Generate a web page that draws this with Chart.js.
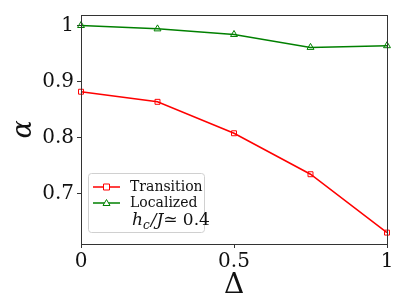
<!DOCTYPE html>
<html>
<head>
<meta charset="utf-8">
<script src="https://cdn.jsdelivr.net/npm/chart.js@4/dist/chart.umd.min.js"></script>
<style>
  html, body { margin: 0; padding: 0; background: #fff; }
  #wrap { width: 407px; height: 305px; }
</style>
</head>
<body>
<div id="wrap"><canvas id="c" width="407" height="305"></canvas></div>
<script>
// ── Data ───────────────────────────────────────────────
const deltaVals   = [0, 0.25, 0.5, 0.75, 1];
const transition  = [0.882, 0.864, 0.808, 0.735, 0.631];
const localized   = [1.000, 0.994, 0.984, 0.961, 0.964];
const xTicks      = [0, 0.5, 1];
const yTicks      = [0.7, 0.8, 0.9, 1];
const seriesNames = ['Transition', 'Localized'];

const RED   = '#ff0000';
const GREEN = '#008000';
const SERIF = '"DejaVu Serif", serif';

const _pts = ys => deltaVals.map((x, i) => ({ x, y: ys[i] }));

// ── Plugins ────────────────────────────────────────────
const _framePlugin = {
  id: 'frame',
  afterDraw(chart) {
    const { ctx, chartArea: a } = chart;
    ctx.save();
    ctx.strokeStyle = '#333';
    ctx.lineWidth = 1;
    ctx.strokeRect(a.left + 0.5, a.top + 0.5, a.right - a.left, a.bottom - a.top);
    ctx.restore();
  },
};

const _legendPlugin = {
  id: 'innerLegend',
  afterDraw(chart) {
    const { ctx } = chart;
    const bx = 88, by = 173, bw = 116, bh = 59;
    ctx.save();
    ctx.fillStyle = 'rgba(255,255,255,0.85)';
    ctx.strokeStyle = '#d0d0d0';
    ctx.lineWidth = 1;
    ctx.beginPath();
    ctx.roundRect(bx + 0.5, by + 0.5, bw, bh, 3);
    ctx.fill();
    ctx.stroke();

    const rows = [
      { label: seriesNames[0], color: RED,   y: 187, marker: 'rect' },
      { label: seriesNames[1], color: GREEN, y: 203, marker: 'tri' },
    ];
    ctx.font = `14px ${SERIF}`;
    ctx.textBaseline = 'middle';
    for (const r of rows) {
      ctx.strokeStyle = r.color;
      ctx.lineWidth = 1.5;
      ctx.beginPath();
      ctx.moveTo(93, r.y);
      ctx.lineTo(120, r.y);
      ctx.stroke();
      ctx.lineWidth = 1;
      ctx.fillStyle = '#fff';
      ctx.beginPath();
      if (r.marker === 'rect') {
        ctx.rect(103.5, r.y - 3, 6, 6);
      } else {
        ctx.moveTo(106.5, r.y - 3.5);
        ctx.lineTo(110, r.y + 2.5);
        ctx.lineTo(103, r.y + 2.5);
        ctx.closePath();
      }
      ctx.fill();
      ctx.stroke();
      ctx.fillStyle = '#111';
      ctx.fillText(r.label, 130, r.y);
    }

    // h_c/J ≃ 0.4
    ctx.textBaseline = 'alphabetic';
    let x = 132;
    const base = 225;
    ctx.font = `italic 17px ${SERIF}`;
    ctx.fillText('h', x, base); x += ctx.measureText('h').width;
    ctx.font = `italic 12px ${SERIF}`;
    ctx.fillText('c', x, base + 4); x += ctx.measureText('c').width + 1;
    ctx.font = `italic 17px ${SERIF}`;
    ctx.fillText('/J', x, base); x += ctx.measureText('/J').width;
    ctx.font = `17px ${SERIF}`;
    ctx.fillText('\u2243 0.4', x, base);
    ctx.restore();
  },
};

// ── Chart ──────────────────────────────────────────────
const _TICK = { color: '#111', font: { family: SERIF, size: 20 } };

new Chart(document.getElementById('c'), {
  type: 'line',
  data: {
    datasets: [
      {
        label: seriesNames[0],
        data: _pts(transition),
        borderColor: RED,
        borderWidth: 1.5,
        pointStyle: 'rect',
        pointRadius: 3.5,
        pointBorderWidth: 1,
        pointBackgroundColor: 'rgba(255,255,255,0)',
        pointBorderColor: RED,
      },
      {
        label: seriesNames[1],
        data: _pts(localized),
        borderColor: GREEN,
        borderWidth: 1.5,
        pointStyle: 'triangle',
        pointRadius: 4,
        pointBorderWidth: 1,
        pointBackgroundColor: 'rgba(255,255,255,0)',
        pointBorderColor: GREEN,
      },
    ],
  },
  options: {
    animation: false,
    responsive: false,
    parsing: true,
    clip: false,
    layout: { padding: { top: 15, right: 20, left: 0, bottom: 0 } },
    scales: {
      x: {
        type: 'linear',
        min: 0, max: 1,
        afterBuildTicks: s => { s.ticks = xTicks.map(v => ({ value: v })); },
        afterFit: s => { s.height = 61; },
        ticks: { ..._TICK, padding: 2, maxRotation: 0,
                 callback: v => String(v) },
        grid: { drawOnChartArea: false, tickLength: 4, color: '#333' },
        border: { color: '#333' },
        title: { display: true, text: 'Δ', color: '#111',
                 font: { family: SERIF, size: 28 }, padding: { top: 0, bottom: 2 } },
      },
      y: {
        type: 'linear',
        min: 0.6107, max: 1.0187,
        afterBuildTicks: s => { s.ticks = yTicks.map(v => ({ value: v })); },
        afterFit: s => { s.width = 81; },
        ticks: { ..._TICK, padding: 3,
                 callback: v => (v === 1 ? '1' : v.toFixed(1)) },
        grid: { drawOnChartArea: false, tickLength: 4, color: '#333' },
        border: { color: '#333' },
        title: { display: true, text: 'α', color: '#111',
                 font: { family: SERIF, size: 27, style: 'italic' }, padding: { top: 8, bottom: 0 } },
      },
    },
    plugins: {
      legend: { display: false },
      tooltip: { enabled: false },
    },
  },
  plugins: [_framePlugin, _legendPlugin],
});
</script>
</body>
</html>
